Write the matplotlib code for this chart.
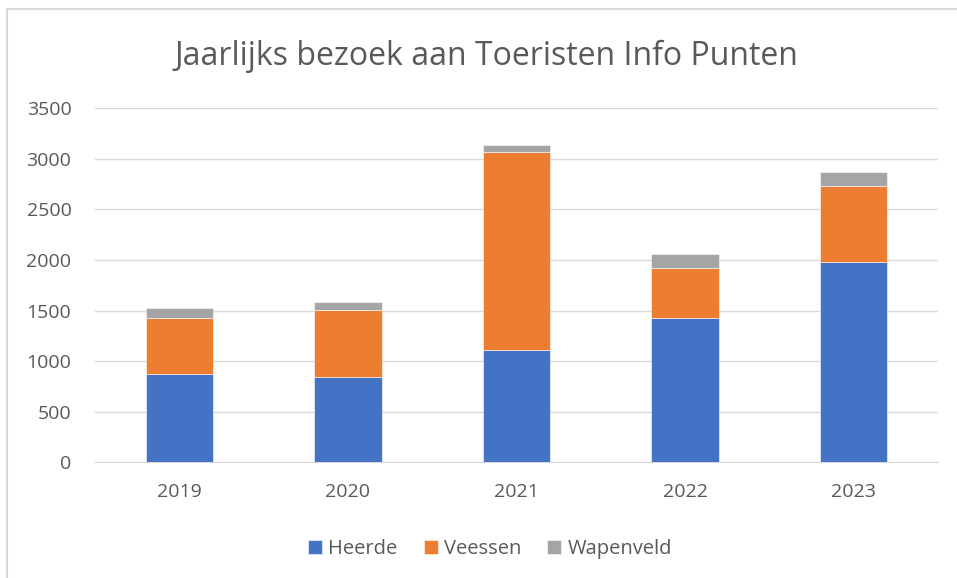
import matplotlib
matplotlib.use("Agg")
import matplotlib.pyplot as plt
from matplotlib.lines import Line2D

plt.rcParams['font.family'] = ['Open Sans', 'DejaVu Sans']

years = ['2019', '2020', '2021', '2022', '2023']
heerde = [869, 845, 1111, 1427, 1979]
veessen = [558, 661, 1956, 493, 746]
wapenveld = [102, 82, 63, 138, 145]

series = [('Heerde', heerde, '#4472c4'),
          ('Veessen', veessen, '#ed7d31'),
          ('Wapenveld', wapenveld, '#a5a5a5')]

fig = plt.figure(figsize=(9.57, 5.78), dpi=100)
ax = fig.add_axes([0.0993, 0.2, 0.8807, 0.6131])

x = list(range(len(years)))
bottom = [0] * len(years)
for name, vals, col in series:
    ax.bar(x, vals, width=0.4, bottom=bottom, color=col, label=name,
           edgecolor='white', linewidth=0.4, zorder=3)
    bottom = [b + v for b, v in zip(bottom, vals)]

ax.set_xlim(-0.5, len(years) - 0.5)
ax.set_ylim(0, 3500)
ax.set_yticks(range(0, 3501, 500))
ax.set_xticks(x)
ax.set_xticklabels(years)
ax.grid(axis='y', color='#d9d9d9', linewidth=1, zorder=0)
for s in ['top', 'right', 'left']:
    ax.spines[s].set_visible(False)
ax.spines['bottom'].set_color('#d9d9d9')
ax.tick_params(axis='both', length=0, labelsize=14, colors='#595959')
ax.tick_params(axis='x', pad=15)
ax.tick_params(axis='y', pad=17)

fig.text(0.5084, 0.903, 'Jaarlijks bezoek aan Toeristen Info Punten',
         ha='center', va='center', fontsize=23, color='#595959')

leg = fig.legend(loc='center', bbox_to_anchor=(0.512, 0.05), ncol=3,
                 frameon=False, fontsize=14.5, handlelength=0.7,
                 handleheight=0.7, handletextpad=0.3, columnspacing=1.3)
for t in leg.get_texts():
    t.set_color('#595959')

# chart area border (only top and left visible in the crop)
fig.add_artist(Line2D([7 / 957, 7 / 957, 1], [0, 1 - 9 / 578, 1 - 9 / 578],
                      transform=fig.transFigure, color='#d9d9d9', linewidth=1.5))

fig.savefig('out.png', dpi=100)
